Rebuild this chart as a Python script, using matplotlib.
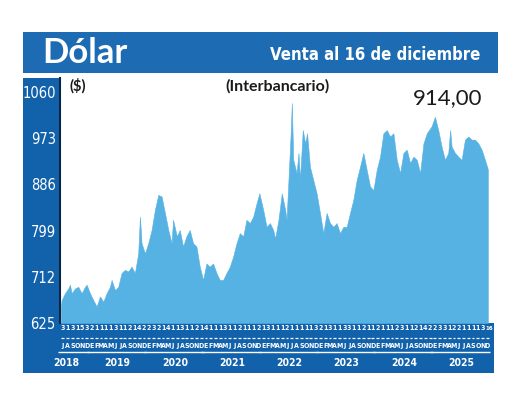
import matplotlib
matplotlib.use('Agg')
import matplotlib.pyplot as plt
from matplotlib.patches import Rectangle

# ── datos: meses desde julio 2018 (fraccionario) y valor del dólar ──
meses = [0, 0.14, 0.84, 1.53, 1.89, 2.24, 2.94, 3.63, 4.33, 5.03,
         5.38, 6.08, 6.78, 7.48, 8.18, 8.87, 9.57, 10.27, 10.62, 11.32,
         12.0, 12.7, 13.4, 14.1, 14.8, 15.5, 16.2, 16.56, 16.9, 17.6,
         18.3, 19.0, 19.7, 20.4, 21.1, 21.8, 22.5, 23.2, 23.5, 24.3,
         24.9, 25.6, 26.3, 27.0, 27.7, 28.4, 29.1, 29.8, 30.5, 31.2,
         31.9, 32.6, 33.3, 34.0, 34.7, 35.4, 36.1, 36.8, 37.5, 38.2,
         38.9, 39.6, 40.3, 41.0, 41.6, 42.4, 43.1, 43.8, 44.5, 44.9,
         45.6, 46.3, 47.0, 47.3, 47.9, 48.2, 48.4, 48.7, 49.4, 49.8,
         50.1, 50.7, 51.2, 51.6, 52.2, 52.9, 53.6, 54.3, 55.0, 55.7,
         56.4, 57.1, 57.8, 58.5, 59.2, 59.9, 60.6, 61.3, 62.0, 62.7,
         63.4, 64.1, 64.8, 65.5, 66.2, 66.9, 67.6, 68.3, 69.0, 69.7,
         70.4, 71.1, 71.8, 72.5, 73.2, 73.9, 74.6, 75.3, 76.0, 76.7,
         77.7, 78.4, 79.1, 79.8, 80.5, 81.2, 81.6, 81.9, 82.6, 83.3,
         84.0, 84.7, 85.4, 86.1, 86.8, 87.5, 88.2, 88.9, 89.5]
dolar = [656, 668, 681, 690, 697, 681, 690, 693, 681, 693,
         697, 681, 668, 656, 675, 665, 681, 693, 706, 687,
         693, 719, 725, 722, 731, 719, 756, 825, 775, 756,
         775, 800, 838, 866, 863, 832, 800, 775, 819, 788,
         800, 769, 788, 800, 775, 769, 731, 706, 737, 731,
         737, 719, 706, 706, 719, 731, 750, 775, 794, 788,
         819, 813, 825, 850, 869, 838, 806, 813, 800, 784,
         819, 869, 838, 819, 932, 988, 1039, 932, 907, 945,
         894, 988, 963, 982, 919, 894, 869, 832, 794, 832,
         813, 806, 813, 794, 806, 806, 832, 857, 894, 919,
         945, 913, 882, 875, 913, 938, 982, 988, 976, 982,
         932, 907, 945, 951, 926, 938, 932, 907, 963, 982,
         995, 1013, 988, 957, 932, 945, 988, 957, 945, 938,
         932, 970, 976, 970, 970, 963, 951, 932, 914]

Y_TICKS = [625, 712, 799, 886, 973, 1060]
DIAS = ('3 1 3 1 5 3 2 1 1 1 1 3 1 1 2 1 4 2 2 3 2 1 4 1 1 3 1 1 2 1 4 '
        '1 1 1 3 1 1 2 1 1 1 2 1 3 1 1 1 2 1 1 1 1 1 3 2 1 3 1 1 3 '
        '3 1 1 2 1 1 2 1 1 1 2 3 1 1 2 1 4 2 2 3 3 1 2 2 1 1 1 1 3 16').split()
LETRAS = ['J', 'A', 'S', 'O', 'N', 'D'] + \
         ['E', 'F', 'M', 'A', 'M', 'J', 'J', 'A', 'S', 'O', 'N', 'D'] * 7
ANIOS = ['2018', '2019', '2020', '2021', '2022', '2023', '2024', '2025']
ULTIMO = '914,00'

# ── colores ──
C_HEAD = '#1d6cb3'
C_BAND = '#1262ab'
C_FILL = '#56b2e3'

COND = dict(family=['DejaVu Sans'], fontstretch='condensed')
plt.rcParams['font.family'] = ['DejaVu Sans']

W, H = 520, 400
fig = plt.figure(figsize=(W / 100, H / 100), dpi=100, facecolor='white')


def box(x0, y0, x1, y1):
    # pixel (top-left origin) -> figure fraction rect
    return [x0 / W, 1 - y1 / H, (x1 - x0) / W, (y1 - y0) / H]


def rect(x0, y0, x1, y1, color):
    l, b, w, h = box(x0, y0, x1, y1)
    fig.add_artist(Rectangle((l, b), w, h, transform=fig.transFigure,
                             facecolor=color, edgecolor='none', zorder=-1))


rect(23, 32, 498, 73, C_HEAD)
rect(23, 78, 59, 373, C_BAND)
rect(23, 323, 494, 373, C_BAND)

# ── gráfico principal ──
ax = fig.add_axes(box(60, 78, 495, 323))
ax.fill_between(meses, dolar, 625, color=C_FILL, linewidth=0.4,
                edgecolor=C_FILL)
ax.set_xlim(-0.2, 91.0)
ax.set_ylim(625, 1086)
ax.set_yticks(Y_TICKS)
ax.set_yticklabels([str(t) for t in Y_TICKS], fontsize=10.5, **COND)
ax.tick_params(axis='y', length=0, pad=3, colors='white')
ax.set_xticks([])
for s in ['top', 'right', 'bottom']:
    ax.spines[s].set_visible(False)
ax.spines['left'].set_color('#0b2747')
ax.spines['left'].set_linewidth(1.5)

# ── banda inferior (coordenadas y en píxeles) ──
axb = fig.add_axes(box(60, 323, 495, 373))
axb.set_xlim(-0.2, 91.0)
axb.set_ylim(373, 323)
axb.axis('off')

for i, (d, l) in enumerate(zip(DIAS, LETRAS)):
    xm = i + 0.4
    axb.text(xm + (0.35 if len(d) > 1 else 0), 328, d, ha='center',
             va='center', color='white', fontsize=5 if len(d) == 1 else 4.4,
             fontweight='bold', **COND)
    axb.hlines(337.5, i + 0.1, i + 0.7, color='white', linewidth=0.9)
    axb.text(xm, 346, l, ha='center', va='center', color='white',
             fontsize=5, fontweight='bold', **COND)

for k, anio in enumerate(ANIOS):
    if k == 0:
        a, b = 0, 5
        xc = 1.1
    else:
        a = 6 + 12 * (k - 1)
        b = a + 11
        xc = (a + b) / 2 + 0.4
    axb.hlines(351.5, a - 0.55, b + 0.9, color='white', linewidth=1.0,
               clip_on=False)
    axb.text(xc, 363.5, anio, ha='center', va='center', color='white',
             fontsize=7.5, fontweight='bold', **COND)

# ── textos ──
fig.text(42 / W, 1 - 53 / H, 'Dólar', color='white', fontsize=25,
         fontweight='bold', family=['Lato', 'DejaVu Sans'], va='center',
         ha='left')
fig.text(480 / W, 1 - 55 / H, 'Venta al 16 de diciembre', color='white',
         fontsize=12, fontweight='bold', va='center', ha='right', **COND)
fig.text(277 / W, 1 - 86 / H, '(Interbancario)', color='#1a1a1a',
         fontsize=11.5, fontweight='bold', family=['Lato', 'DejaVu Sans'],
         va='center', ha='center')
fig.text(69 / W, 1 - 86 / H, '($)', color='#1a1a1a', fontsize=10.5,
         fontweight='bold', family=['Lato', 'DejaVu Sans'], va='center',
         ha='left')
fig.text(482 / W, 1 - 98 / H, ULTIMO, color='#1a1a1a', fontsize=16,
         family=['Lato', 'DejaVu Sans'], va='center', ha='right')

fig.savefig('out.png', dpi=100, facecolor='white')
